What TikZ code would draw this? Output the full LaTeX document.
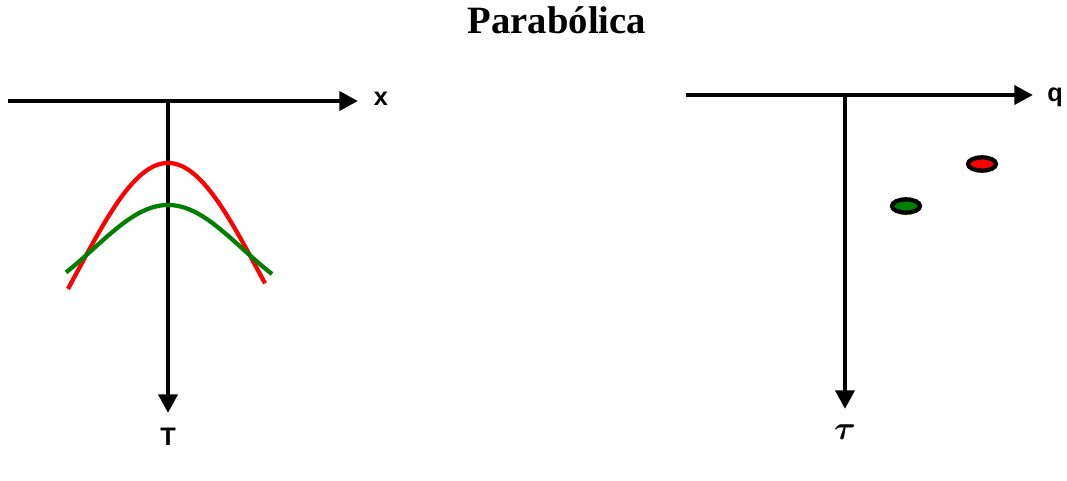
\documentclass[tikz,border=0pt]{standalone}
\usepackage{amsmath,amssymb}
\usepackage{fontspec}
\setmainfont{Liberation Serif}
\setsansfont{Liberation Sans}
\usetikzlibrary{arrows.meta,shapes.geometric}

\begin{document}
\begin{tikzpicture}[x=0.75pt,y=-0.75pt,
  ax/.style={line width=3.5pt,-{Triangle[length=14pt,width=14pt]}},
  lbl/.style={font=\sffamily\bfseries\fontsize{19}{21}\selectfont},
  crv/.style={line width=3.2pt},
  dot/.style={draw,ellipse,line width=3.2pt,fill=#1,minimum width=21pt,minimum height=10pt,inner sep=0pt}]
\useasboundingbox (0,0) rectangle (1067,481);
\node[font=\bfseries\fontsize{29}{33}\selectfont] (ttl) at (557,20) {Parabólica};
% izquierda: x - T
\coordinate (o1) at (168,101);
\coordinate (xa) at (8,101);
\coordinate (xb) at (358,101);
\coordinate (ta) at (168,413);
\node[lbl] (lx) at (381,99) {x};
\node[lbl] (lt) at (168,437) {T};
\draw[line width=3.5pt] (xa)--(o1);
\draw[ax] (o1)--(xb);
\draw[ax] (o1)--(ta);
\draw[crv,red] plot[domain=-100:97,samples=60,smooth] ({168+\x},{445-282*exp(-(\x/130)^2)});
\draw[crv,green!50!black] plot[domain=-102:104,samples=60,smooth] ({168+\x},{315.4-110.4*exp(-(\x/105)^2)});
% derecha: q - tau
\coordinate (o2) at (845,95);
\coordinate (qa) at (686,95);
\coordinate (qb) at (1033,95);
\coordinate (tb) at (845,409);
\node[lbl] (lq) at (1055,97) {q};
\node[font=\fontsize{24}{26}\selectfont] (ltau) at (845,432) {$\boldsymbol{\tau}$};
\draw[line width=3.5pt] (qa)--(o2);
\draw[ax] (o2)--(qb);
\draw[ax] (o2)--(tb);
\node[dot=red] (pr) at (982,164) {};
\node[dot=green!50!black] (pg) at (906,206) {};
\end{tikzpicture}
\end{document}
